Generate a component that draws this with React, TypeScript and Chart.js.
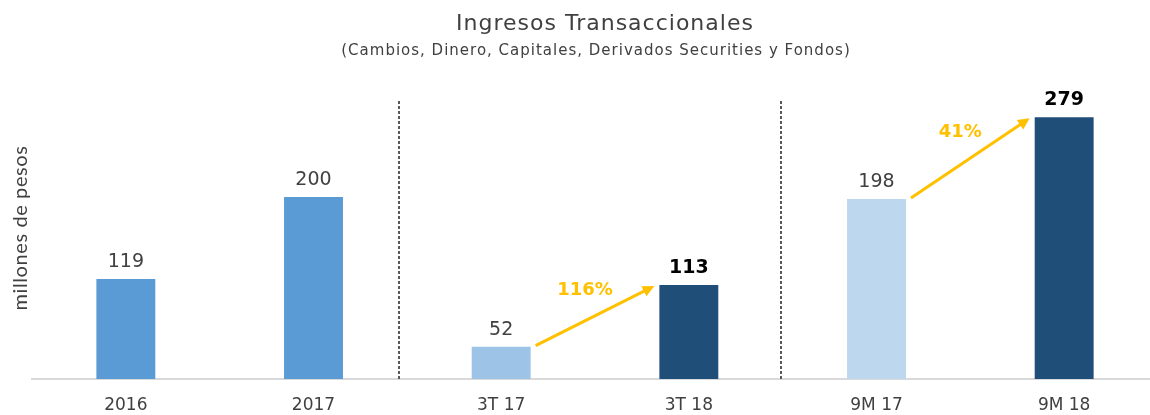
import React, { useEffect, useRef } from "react";
import { Chart, registerables } from "chart.js";

Chart.register(...registerables);

const categories = ["2016", "2017", "3T 17", "3T 18", "9M 17", "9M 18"];
const values = [119, 200, 52, 113, 198, 279];
const barColors = ["#5B9BD5", "#5B9BD5", "#9DC3E6", "#1F4E79", "#BDD7EE", "#1F4E79"];
const boldLabels = [false, false, false, true, false, true];
const growthFrom = [2, 4];
const growthTo = [3, 5];
const growthLabels = ["116%", "41%"];
const dividerPositions = [1.455, 3.49];

const titleText = "Ingresos Transaccionales";
const subtitleText = "(Cambios, Dinero, Capitales, Derivados Securities y Fondos)";
const yTitleText = "millones de pesos";

const FONT = "'DejaVu Sans', sans-serif";

const overlayPlugin = {
  id: "overlay",
  afterDatasetsDraw(chart: any) {
    const ctx = chart.ctx;
    const meta = chart.getDatasetMeta(0);
    const area = chart.chartArea;
    const xs = chart.scales.x;
    ctx.save();

    // title & subtitle
    ctx.fillStyle = "#404040";
    ctx.textAlign = "center";
    ctx.textBaseline = "alphabetic";
    ctx.font = `22px ${FONT}`;
    (ctx as any).letterSpacing = "1px";
    ctx.fillText(titleText, 605, 30);
    ctx.font = `15px ${FONT}`;
    (ctx as any).letterSpacing = "1px";
    ctx.fillText(subtitleText, 596, 55);
    (ctx as any).letterSpacing = "0px";

    // y title
    ctx.save();
    ctx.translate(21, 228);
    ctx.rotate(-Math.PI / 2);
    ctx.font = "20px Lato, sans-serif";
    (ctx as any).letterSpacing = "0.6px";
    ctx.textBaseline = "middle";
    ctx.fillText(yTitleText, 0, 0);
    (ctx as any).letterSpacing = "0px";
    ctx.restore();

    // dividers
    ctx.strokeStyle = "#595959";
    ctx.lineWidth = 2;
    ctx.setLineDash([3, 2]);
    dividerPositions.forEach((p) => {
      const x0 = xs.getPixelForValue(Math.floor(p));
      const x1 = xs.getPixelForValue(Math.floor(p) + 1);
      const x = Math.round(x0 + (x1 - x0) * (p - Math.floor(p)));
      ctx.beginPath();
      ctx.moveTo(x, area.top + 5);
      ctx.lineTo(x, area.bottom);
      ctx.stroke();
    });
    ctx.setLineDash([]);

    // value labels
    ctx.textAlign = "center";
    ctx.textBaseline = "alphabetic";
    meta.data.forEach((bar: any, i: number) => {
      ctx.font = `${boldLabels[i] ? "bold " : ""}19px ${FONT}`;
      ctx.fillStyle = boldLabels[i] ? "#000000" : "#404040";
      ctx.fillText(String(values[i]), bar.x, bar.y - 12);
    });

    // growth arrows
    const color = "#FFC000";
    growthFrom.forEach((fi, k) => {
      const a = meta.data[fi];
      const b = meta.data[growthTo[k]];
      const sx = a.x + a.width / 2 + 5;
      const sy = a.y - 1;
      const ex = b.x - b.width / 2 - 5;
      const ey = b.y + 1;
      const ang = Math.atan2(ey - sy, ex - sx);
      const head = 13;
      const lx = ex - Math.cos(ang) * head * 0.8;
      const ly = ey - Math.sin(ang) * head * 0.8;
      ctx.strokeStyle = color;
      ctx.lineWidth = 3;
      ctx.beginPath();
      ctx.moveTo(sx, sy);
      ctx.lineTo(lx, ly);
      ctx.stroke();
      ctx.fillStyle = color;
      ctx.beginPath();
      ctx.moveTo(ex, ey);
      ctx.lineTo(ex - head * Math.cos(ang - 0.45), ey - head * Math.sin(ang - 0.45));
      ctx.lineTo(ex - head * Math.cos(ang + 0.45), ey - head * Math.sin(ang + 0.45));
      ctx.closePath();
      ctx.fill();
      const mx = (sx + ex) / 2 - 10;
      const my = (sy + ey) / 2 - 26;
      ctx.font = `bold 18px ${FONT}`;
      ctx.textAlign = "center";
      ctx.textBaseline = "middle";
      ctx.fillText(growthLabels[k], mx, my);
    });

    ctx.restore();
  },
};

export default function App() {
  const ref = useRef<HTMLCanvasElement | null>(null);
  useEffect(() => {
    if (!ref.current) return;
    const chart = new Chart(ref.current, {
      type: "bar",
      data: {
        labels: categories,
        datasets: [
          {
            data: values,
            backgroundColor: barColors,
            borderWidth: 0,
            barPercentage: 0.314,
            categoryPercentage: 1,
          },
        ],
      },
      options: {
        responsive: false,
        animation: false,
        layout: { padding: { left: 32, right: 12, top: 96, bottom: 0 } },
        plugins: { legend: { display: false }, tooltip: { enabled: false } },
        scales: {
          x: {
            grid: { display: false, drawTicks: false },
            border: { display: true, color: "#d9d9d9", width: 2 },
            ticks: {
              color: "#404040",
              font: { family: "'DejaVu Sans', sans-serif", size: 17 },
              padding: 16,
              maxRotation: 0,
              autoSkip: false,
            },
            afterFit: (scale: any) => {
              scale.height = 36;
            },
          },
          y: { display: false, min: 20, max: 300 },
        },
      },
      plugins: [overlayPlugin],
    });
    return () => chart.destroy();
  }, []);
  return (
    <div style={{ position: "fixed", left: 0, top: 0, width: 1150, height: 415, overflow: "hidden", background: "#fff" }}>
      <canvas ref={ref} width={1170} height={415} style={{ display: "block" }} />
    </div>
  );
}
